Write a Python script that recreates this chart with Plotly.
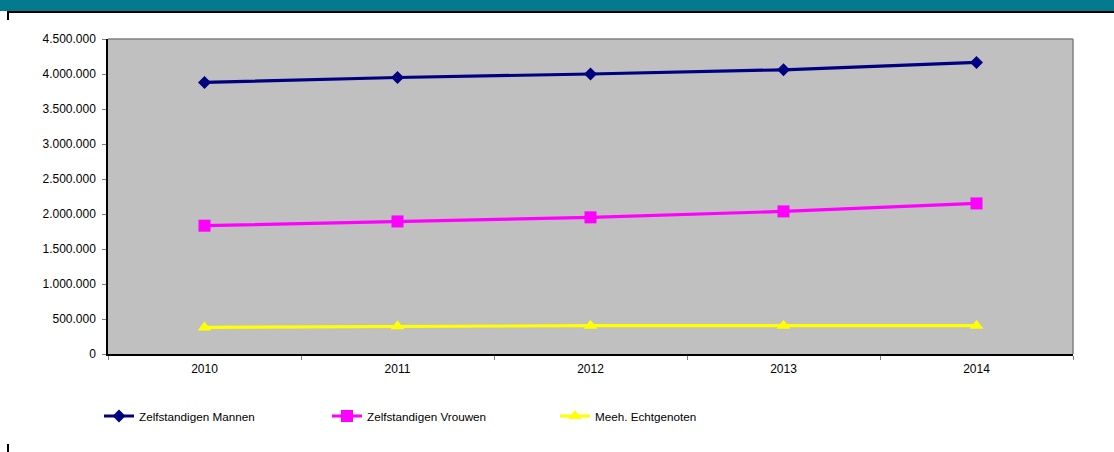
import plotly.graph_objects as go

years = ["2010", "2011", "2012", "2013", "2014"]
mannen = [3880000, 3950000, 4000000, 4060000, 4166000]
vrouwen = [1833000, 1894000, 1952000, 2037000, 2151000]
echtgenoten = [380000, 395000, 405000, 405000, 405000]

names = ["Zelfstandigen Mannen", "Zelfstandigen Vrouwen", "Meeh. Echtgenoten"]
colors = ["#000080", "#FF00FF", "#FFFF00"]
symbols = ["diamond", "square", "triangle-up"]
sizes = [10, 12, 12]

W, H = 1114, 452
L, R, T, B = 108, 1073, 39, 354
pw, ph = R - L, B - T

def px(x):
    return (x - L) / pw

def py(y):
    return (B - y) / ph

fig = go.Figure()
for name, vals, c, s, sz in zip(names, [mannen, vrouwen, echtgenoten], colors, symbols, sizes):
    fig.add_trace(go.Scatter(
        x=years, y=vals, name=name, mode="lines+markers",
        line=dict(color=c, width=3.2),
        marker=dict(symbol=s, size=sz, color=c, line=dict(width=0)),
    ))

fig.update_layout(
    width=W, height=H,
    margin=dict(l=L, r=W - R, t=T, b=H - B, pad=0),
    paper_bgcolor="white",
    plot_bgcolor="#C0C0C0",
    separators=",.",
    font=dict(family="Liberation Sans, Arial, sans-serif", size=12, color="black"),
    showlegend=True,
    legend=dict(
        orientation="h", x=px(99), y=py(416), xanchor="left", yanchor="middle",
        entrywidth=183, entrywidthmode="pixels",
        font=dict(size=11.7), bgcolor="rgba(0,0,0,0)", itemwidth=30,
    ),
    xaxis=dict(
        type="category", range=[-0.5, 4.5], tickson="boundaries",
        ticks="outside", ticklen=4, tickcolor="#808080",
        showline=True, linecolor="black", linewidth=1.5,
        showgrid=False, zeroline=False, mirror=False,
        tickfont=dict(size=12), ticklabelstandoff=3,
    ),
    yaxis=dict(
        range=[0, 4500000], dtick=500000, tickformat=",d",
        ticks="outside", ticklen=4, tickcolor="#808080",
        showline=True, linecolor="black", linewidth=1.5,
        showgrid=False, zeroline=False,
        tickfont=dict(size=12), ticklabelstandoff=4,
    ),
    shapes=[
        dict(type="line", xref="paper", yref="paper", x0=0, x1=1, y0=1, y1=1,
             line=dict(color="#808080", width=1.5)),
        dict(type="line", xref="paper", yref="paper", x0=1, x1=1, y0=0, y1=1,
             line=dict(color="#808080", width=1.5)),
        dict(type="rect", xref="paper", yref="paper", x0=px(0), x1=px(W), y0=py(11), y1=py(0),
             fillcolor="#047A8F", line=dict(width=0), layer="above"),
        dict(type="line", xref="paper", yref="paper", x0=px(7), x1=px(W), y0=py(12), y1=py(12),
             line=dict(color="black", width=2)),
        dict(type="line", xref="paper", yref="paper", x0=px(8), x1=px(8), y0=py(12), y1=py(20),
             line=dict(color="black", width=2)),
        dict(type="line", xref="paper", yref="paper", x0=px(8), x1=px(8), y0=py(444), y1=py(452),
             line=dict(color="black", width=2)),
    ],
)

fig.write_html(
    "out.html",
    config={"displayModeBar": False},
    post_script="document.body.style.margin='0';document.body.style.overflow='hidden';",
)
